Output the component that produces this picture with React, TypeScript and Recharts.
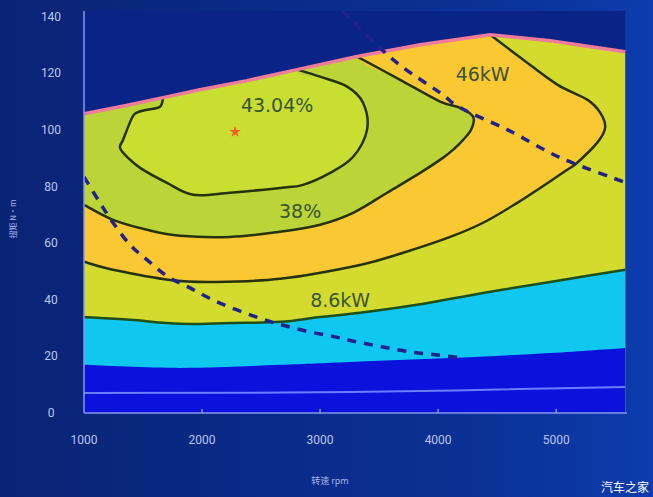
import React from "react";
import {
  ComposedChart,
  Area,
  Line,
  Scatter,
  XAxis,
  YAxis,
  ReferenceLine,
  Symbols,
} from "recharts";

type Pt = { rpm: number; v: number };
const toPts = (arr: number[][]): Pt[] => arr.map(([rpm, v]) => ({ rpm, v }));

// full-load torque curve (pink upper edge of the map)
const torqueMax = toPts([
  [1000, 105.7], [1347, 108.5], [1670, 111.4], [1983, 114.2], [2381, 117.4],
  [2805, 121.3], [3314, 125.9], [3848, 130.1], [4441, 133.6], [4949, 131.5],
  [5585, 127.6],
]);

// 43.04% island (open contour touching the torque curve)
const eff43 = toPts([
  [1670, 111.4], [1644, 108.2], [1534, 107.1], [1449, 106.1], [1407, 104.3],
  [1331, 96.5], [1305, 93.7], [1364, 90.5], [1475, 86.6], [1703, 81.3],
  [1924, 77.1], [2237, 77.8], [2661, 79.5], [2856, 80.6], [3085, 84.8],
  [3280, 90.5], [3398, 100.1], [3364, 109.6], [3229, 115.3], [3000, 118.8],
  [2805, 121.3],
]);

// 38% contour
const eff38 = toPts([
  [1000, 73.5], [1246, 68.2], [1534, 64.7], [1814, 62.6], [2237, 62.2],
  [2661, 64.0], [3000, 66.5], [3280, 70.7], [3568, 77.8], [3848, 84.8],
  [4043, 90.2], [4127, 93.0], [4212, 96.5], [4280, 100.1], [4297, 104.6],
  [4187, 107.8], [4017, 110.0], [3678, 117.7], [3314, 125.9],
]);

// outer edge of the orange band
const bandOuter = toPts([
  [1000, 53.4], [1246, 50.6], [1729, 47.0], [2093, 46.3], [2661, 47.4],
  [3339, 52.3], [3704, 56.6], [4102, 62.2], [4381, 67.2], [4670, 74.2],
  [4839, 78.8], [5093, 85.9], [5178, 88.4], [5348, 95.5], [5415, 100.8],
  [5373, 106.1], [5263, 110.7], [5009, 116.0], [4721, 124.8], [4441, 133.6],
]);

// 8.6kW contour (top of cyan band)
const power86 = toPts([
  [1000, 33.9], [1390, 32.9], [1814, 31.5], [2237, 31.8], [2661, 32.2],
  [3000, 33.9], [3339, 35.4], [3822, 38.2], [4381, 42.4], [4949, 46.3],
  [5585, 50.6],
]);

// bottom of cyan band
const cyanFloor = toPts([
  [1000, 17.0], [1814, 15.9], [2661, 17.0], [3254, 18.0], [4102, 19.4],
  [4949, 21.2], [5585, 23.0],
]);

const faintLine = toPts([[1000, 7.1], [3254, 7.4], [5585, 9.2]]);

// dashed constant-power lines
const dash46 = toPts([
  [3187, 142], [3619, 124.8], [4017, 113.1], [4187, 107.8], [4585, 100.1],
  [4949, 91.9], [5178, 87.7], [5568, 81.7],
]);
const dash86 = toPts([
  [1000, 83.4], [1136, 74.2], [1246, 67.2], [1390, 59.4], [1534, 54.1],
  [1712, 48.1], [1898, 44.2], [2093, 39.9], [2297, 36.4], [2509, 33.2],
  [2703, 30.8], [2915, 28.6], [3127, 26.9], [3314, 25.1], [3534, 23.3],
  [3763, 21.6], [3992, 20.5], [4229, 19.4],
]);

const bestPoint = [{ rpm: 2280, v: 99.3 }];
const mapLabels = [
  { rpm: 2636, v: 108.9, text: "43.04%" },
  { rpm: 2831, v: 71.4, text: "38%" },
  { rpm: 3170, v: 39.9, text: "8.6kW" },
  { rpm: 4377, v: 119.7, text: "46kW" },
];

const xTicks = [1000, 2000, 3000, 4000, 5000];
const yTicks = [0, 20, 40, 60, 80, 100, 120, 140];
const innerTicks = [2000, 3000, 4000, 5000];
const Y_TOP = 142;

// close an open contour upward; the part above the torque curve gets masked
const closeUp = (path: Pt[]): Pt[] => {
  const first = path[0];
  const last = path[path.length - 1];
  return [...path, { rpm: last.rpm, v: Y_TOP }, { rpm: first.rpm, v: Y_TOP }, first];
};

const mask = torqueMax.map((p) => ({ rpm: p.rpm, band: [p.v, Y_TOP] }));

// catmull-rom curve factory, passes through the points and works for
// contours that fold back on x
function smooth(context: any) {
  let pts: number[][] = [];
  let line = NaN;
  const draw = () => {
    const n = pts.length;
    if (!n) return;
    if (line) context.lineTo(pts[0][0], pts[0][1]);
    else context.moveTo(pts[0][0], pts[0][1]);
    for (let i = 0; i < n - 1; i++) {
      const p0 = pts[Math.max(i - 1, 0)];
      const p1 = pts[i];
      const p2 = pts[i + 1];
      const p3 = pts[Math.min(i + 2, n - 1)];
      context.bezierCurveTo(
        p1[0] + (p2[0] - p0[0]) / 6,
        p1[1] + (p2[1] - p0[1]) / 6,
        p2[0] - (p3[0] - p1[0]) / 6,
        p2[1] - (p3[1] - p1[1]) / 6,
        p2[0],
        p2[1]
      );
    }
  };
  return {
    areaStart() {
      line = 0;
    },
    areaEnd() {
      line = NaN;
    },
    lineStart() {
      pts = [];
    },
    lineEnd() {
      draw();
      if (line || (line !== 0 && pts.length === 1)) context.closePath();
      line = 1 - line;
    },
    point(x: number, y: number) {
      pts.push([+x, +y]);
    },
  };
}

const XTick = ({ x, y, payload }: any) => (
  <text x={x} y={y} textAnchor="middle" dominantBaseline="central" fill="#bcc5f0" fontSize={12} fontFamily="Roboto">
    {payload.value}
  </text>
);
const YTick = ({ x, y, payload }: any) => (
  <text x={x} y={y} textAnchor="middle" dominantBaseline="central" fill="#bcc5f0" fontSize={12} fontFamily="Roboto">
    {payload.value}
  </text>
);

const LabelShape = (props: any) => (
  <text
    x={props.cx}
    y={props.cy}
    textAnchor="middle"
    dominantBaseline="central"
    fill="#3a5430"
    fontSize={19}
    fontFamily="DejaVu Sans"
  >
    {props.payload.text}
  </text>
);

const StarShape = (props: any) => (
  <Symbols cx={props.cx} cy={props.cy} type="star" size={42} fill="#f2602c" />
);

const LINE = "#26310f";
const DASH = "#22228a";

export default function App() {
  return (
    <div
      style={{
        position: "relative",
        width: 653,
        height: 497,
        background: "linear-gradient(90deg, #0a2474 0%, #0a2a88 40%, #0b3296 75%, #0c3cad 100%)",
        overflow: "hidden",
      }}
    >
      <style>{"body{margin:0}"}</style>
      <ComposedChart width={653} height={497} margin={{ top: 11, right: 26, bottom: 54, left: 24 }}>
        <XAxis
          type="number"
          dataKey="rpm"
          domain={[1000, 5600]}
          ticks={xTicks}
          allowDataOverflow
          height={30}
          tickLine={false}
          tickMargin={21}
          axisLine={{ stroke: "#8797ea", strokeWidth: 1.5 }}
          tick={<XTick />}
        />
        <YAxis
          type="number"
          dataKey="v"
          domain={[0, Y_TOP]}
          ticks={yTicks}
          allowDataOverflow
          width={60}
          tickLine={false}
          tickMargin={27}
          axisLine={{ stroke: "#8797ea", strokeWidth: 1.5 }}
          tick={<YTick />}
        />

        {/* fills, painted bottom-up */}
        <Area data={torqueMax} dataKey="v" type="linear" fill="#d3dc2e" fillOpacity={1} stroke="none" isAnimationActive={false} />
        <Area data={closeUp(bandOuter)} dataKey="v" type={smooth as any} fill="#f9c832" fillOpacity={1} stroke="none" isAnimationActive={false} />
        <Area data={closeUp(eff38)} dataKey="v" type={smooth as any} fill="#bbd538" fillOpacity={1} stroke="none" isAnimationActive={false} />
        <Area data={closeUp(eff43)} dataKey="v" type={smooth as any} fill="#c8df32" fillOpacity={1} stroke="none" isAnimationActive={false} />
        <Area data={power86} dataKey="v" type={smooth as any} fill="#10c7f0" fillOpacity={1} stroke="none" baseValue={0} isAnimationActive={false} />
        <Area data={cyanFloor} dataKey="v" type={smooth as any} fill="#0b12dc" fillOpacity={1} stroke="none" baseValue={0} isAnimationActive={false} />
        <Area data={mask} dataKey="band" type="linear" fill="#0a2386" fillOpacity={1} stroke="none" isAnimationActive={false} />

        {/* contour lines */}
        <Line data={faintLine} dataKey="v" type={smooth as any} stroke="#6d7dff" strokeWidth={2} dot={false} isAnimationActive={false} />
        <Line data={bandOuter} dataKey="v" type={smooth as any} stroke={LINE} strokeWidth={2.5} dot={false} isAnimationActive={false} />
        <Line data={eff38} dataKey="v" type={smooth as any} stroke={LINE} strokeWidth={2.5} dot={false} isAnimationActive={false} />
        <Line data={eff43} dataKey="v" type={smooth as any} stroke={LINE} strokeWidth={2.5} dot={false} isAnimationActive={false} />
        <Line data={power86} dataKey="v" type={smooth as any} stroke="#1d4f1a" strokeWidth={2.5} dot={false} isAnimationActive={false} />
        <Line data={torqueMax} dataKey="v" type="linear" stroke="#ee7c9a" strokeWidth={3.5} dot={false} isAnimationActive={false} />

        {/* constant power lines */}
        <Line data={dash46} dataKey="v" type={smooth as any} stroke={DASH} strokeWidth={3.5} strokeDasharray="9 8" dot={false} isAnimationActive={false} />
        <Line data={dash86} dataKey="v" type={smooth as any} stroke={DASH} strokeWidth={3.5} strokeDasharray="9 8" dot={false} isAnimationActive={false} />

        {innerTicks.map((t) => (
          <ReferenceLine
            key={t}
            segment={[{ x: t, y: 0 }, { x: t, y: 1.4 }]}
            stroke="#8797ea"
            strokeWidth={1.5}
            ifOverflow="visible"
          />
        ))}

        <Scatter data={bestPoint} dataKey="v" shape={<StarShape />} isAnimationActive={false} />
        <Scatter data={mapLabels} dataKey="v" shape={<LabelShape />} isAnimationActive={false} />
      </ComposedChart>

      <div
        style={{
          position: "absolute",
          left: 12,
          top: 219,
          transform: "translate(-50%, -50%) rotate(-90deg)",
          fontSize: 8,
          color: "#a9b5e6",
          fontFamily: "'Noto Sans CJK SC', sans-serif",
          whiteSpace: "nowrap",
        }}
      >
        扭矩 N·m
      </div>
      <div
        style={{
          position: "absolute",
          left: 330,
          top: 480,
          transform: "translate(-50%, -50%)",
          fontSize: 9,
          color: "#a9b5e6",
          fontFamily: "'Noto Sans CJK SC', sans-serif",
          whiteSpace: "nowrap",
        }}
      >
        转速 rpm
      </div>
      <div
        style={{
          position: "absolute",
          left: 601,
          top: 486,
          transform: "translateY(-50%)",
          fontSize: 12,
          color: "#ffffff",
          fontFamily: "'Noto Sans CJK SC', sans-serif",
          whiteSpace: "nowrap",
        }}
      >
        汽车之家
      </div>
    </div>
  );
}
